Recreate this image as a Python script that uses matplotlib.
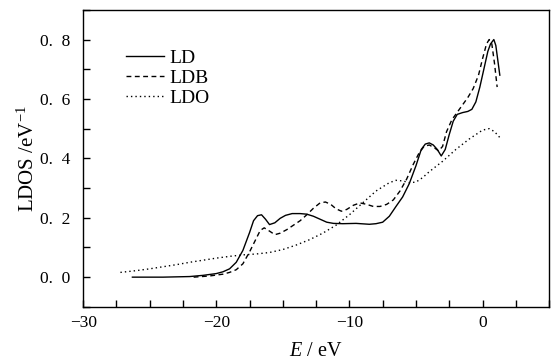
import matplotlib
matplotlib.use('Agg')
import matplotlib.pyplot as plt
from matplotlib.ticker import MultipleLocator, FixedLocator, FixedFormatter

plt.rcParams['font.family'] = ['Liberation Serif', 'DejaVu Serif']
plt.rcParams['mathtext.fontset'] = 'custom'
plt.rcParams['mathtext.rm'] = 'Liberation Serif'
plt.rcParams['mathtext.it'] = 'Liberation Serif:italic'

# LD (solid)
ld_x = [-26.3, -24, -22, -21, -20, -19.5, -19, -18.5, -18, -17.5, -17.2, -16.9, -16.6, -16.3,
        -16.0, -15.6, -15.2, -14.8, -14.3, -13.7, -13.2, -12.7, -12.2, -11.7, -11.2, -10.5,
        -9.5, -8.5, -8.0, -7.5, -7.0, -6.5, -6.0, -5.5, -5.0, -4.6, -4.3, -4.0, -3.7, -3.4,
        -3.1, -2.8, -2.5, -2.2, -1.9, -1.5, -1.1, -0.8, -0.5, -0.2, 0.1, 0.4, 0.6, 0.85,
        1.0, 1.15, 1.3]
ld_y = [0.0, 0.0, 0.002, 0.006, 0.012, 0.018, 0.028, 0.05, 0.09, 0.15, 0.19, 0.207, 0.21, 0.195,
        0.177, 0.183, 0.198, 0.208, 0.214, 0.214, 0.212, 0.205, 0.195, 0.185, 0.181, 0.18,
        0.181, 0.178, 0.18, 0.185, 0.205, 0.238, 0.27, 0.315, 0.375, 0.43, 0.448, 0.452, 0.445, 0.43,
        0.408, 0.43, 0.48, 0.525, 0.548, 0.554, 0.558, 0.565, 0.59, 0.64, 0.7, 0.76, 0.785, 0.8,
        0.78, 0.73, 0.68]

# LDB (dashed)
ldb_x = [-21.7, -20.5, -19.5, -19, -18.5, -18, -17.5, -17.0, -16.7, -16.4, -16.0, -15.6, -15.2,
         -14.7, -14.2, -13.7, -13.2, -12.7, -12.2, -11.8, -11.4, -11.0, -10.6, -10.2, -9.7, -9.2,
         -8.7, -8.2, -7.7, -7.2, -6.7, -6.2, -5.7, -5.2, -4.8, -4.4, -4.0, -3.6, -3.3, -3.0, -2.7,
         -2.3, -1.9, -1.5, -1.1, -0.7, -0.3, 0.0, 0.3, 0.5, 0.7, 0.9, 1.1]
ldb_y = [0.0, 0.004, 0.01, 0.016, 0.025, 0.045, 0.085, 0.13, 0.157, 0.166, 0.155, 0.143, 0.148,
         0.16, 0.175, 0.19, 0.21, 0.232, 0.25, 0.253, 0.245, 0.23, 0.222, 0.228, 0.242, 0.25,
         0.245, 0.238, 0.238, 0.245, 0.26, 0.29, 0.33, 0.38, 0.415, 0.44, 0.445, 0.435, 0.425, 0.44,
         0.49, 0.53, 0.555, 0.58, 0.605, 0.635, 0.68, 0.735, 0.785, 0.8, 0.785, 0.72, 0.64]

# LDO (dotted)
ldo_x = [-27.2, -26, -25, -24, -23, -22, -21, -20, -19, -18, -17, -16, -15, -14, -13, -12, -11,
         -10, -9, -8, -7, -6.5, -6, -5.5, -5, -4.5, -4, -3, -2, -1, -0.5, 0, 0.5, 0.9, 1.3]
ldo_y = [0.016, 0.022, 0.028, 0.035, 0.042, 0.05, 0.057, 0.064, 0.07, 0.075, 0.078, 0.083, 0.093,
         0.108, 0.126, 0.148, 0.175, 0.21, 0.25, 0.29, 0.318, 0.326, 0.324, 0.318, 0.32, 0.335,
         0.355, 0.39, 0.43, 0.465, 0.48, 0.495, 0.5, 0.49, 0.47]

y_ticks = [0.0, 0.2, 0.4, 0.6, 0.8]
y_labels = ['0.\u20020', '0.\u20022', '0.\u20024', '0.\u20026', '0.\u20028']
x_ticks = [-30, -20, -10, 0]
x_labels = ['\u221230', '\u221220', '\u221210', '0']

fig = plt.figure(figsize=(5.58, 3.64), dpi=100)
ax = fig.add_axes([0.149, 0.157, 0.835, 0.816])

ax.plot(ld_x, ld_y, color='black', lw=1.0, ls='-', label='LD')
ax.plot(ldb_x, ldb_y, color='black', lw=1.0, ls=(0, (3.5, 2.5)), label='LDB')
ax.plot(ldo_x, ldo_y, color='black', lw=1.0, ls=(0, (1, 2.2)), label='LDO')

ax.set_xlim(-30, 5)
ax.set_ylim(-0.1, 0.9)
ax.xaxis.set_major_locator(FixedLocator(x_ticks))
ax.xaxis.set_major_formatter(FixedFormatter(x_labels))
ax.xaxis.set_minor_locator(MultipleLocator(2.5))
ax.yaxis.set_major_locator(FixedLocator(y_ticks))
ax.yaxis.set_major_formatter(FixedFormatter(y_labels))
ax.yaxis.set_minor_locator(MultipleLocator(0.1))
ax.tick_params(which='both', direction='in', length=5, width=1.0, labelsize=12.5,
               top=False, right=False)
ax.tick_params(axis='x', pad=6)
ax.tick_params(axis='y', pad=9)
for s in ax.spines.values():
    s.set_linewidth(1.0)

ax.set_xlabel('$E$ / eV', fontsize=14.5, labelpad=8)
ax.set_ylabel('LDOS /eV$^{-1}$', fontsize=15, labelpad=1)

ax.legend(loc='upper left', bbox_to_anchor=(0.072, 0.90), frameon=False, fontsize=14,
          handlelength=1.95, handletextpad=0.25, labelspacing=0.12, borderpad=0)

fig.savefig('out.png', dpi=100)
